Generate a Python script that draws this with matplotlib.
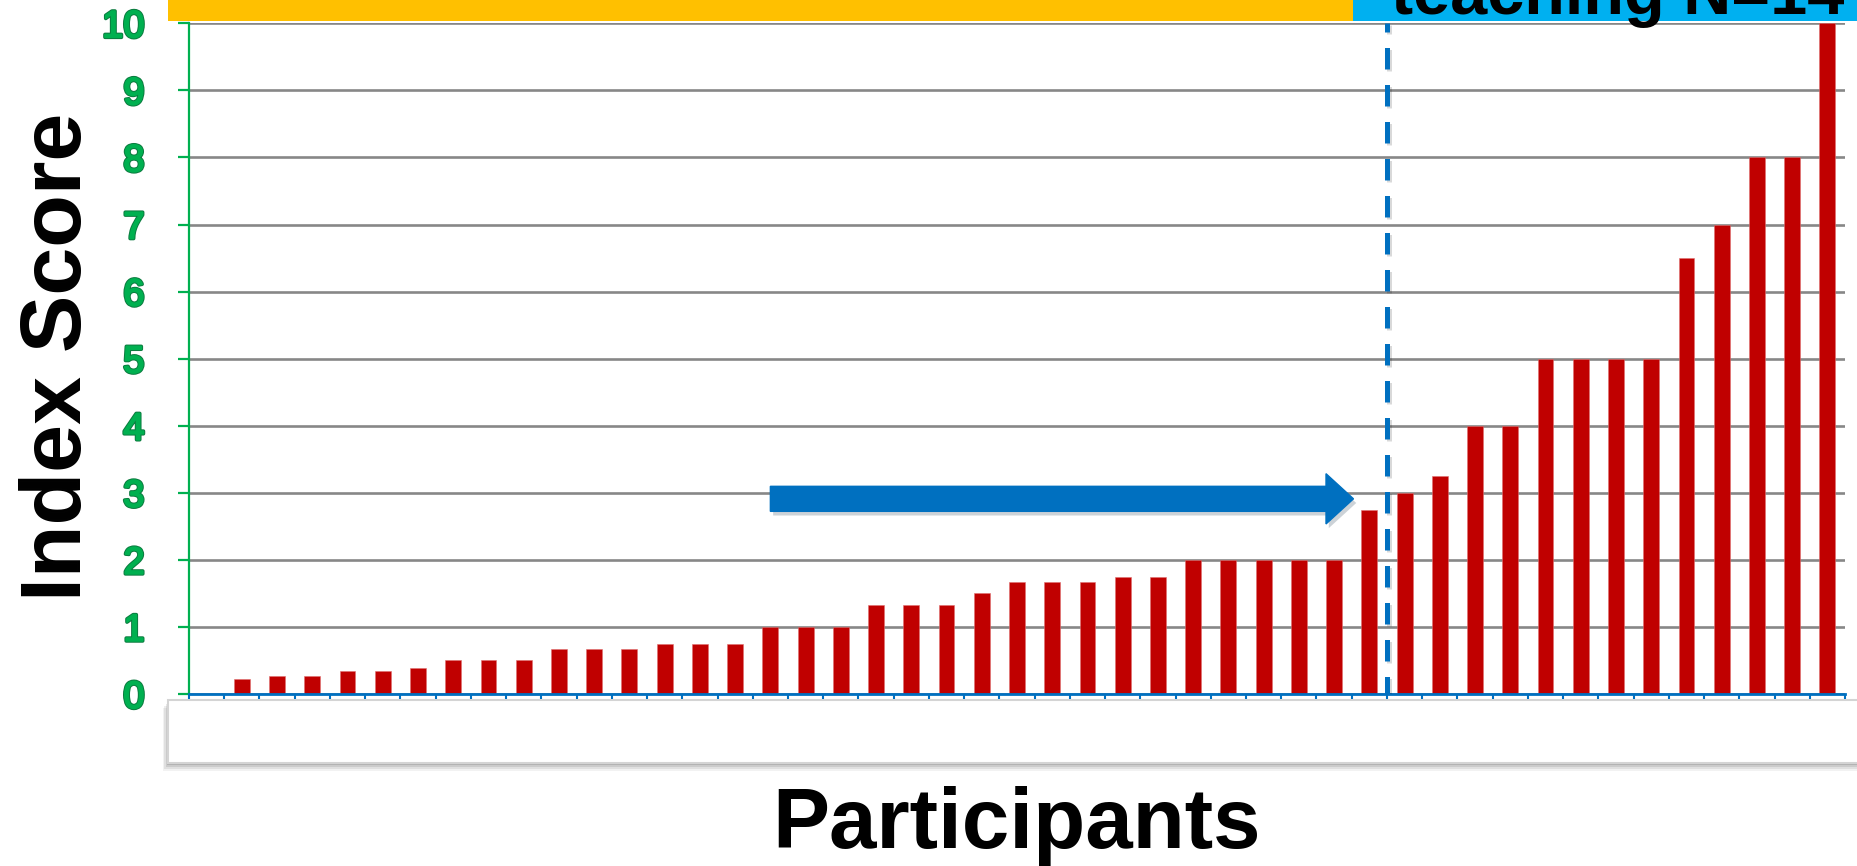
import matplotlib
matplotlib.use("Agg")
import matplotlib.pyplot as plt
import matplotlib.patheffects as pe
from matplotlib.patches import Rectangle, FancyArrow
import numpy as np

# Index score per participant, sorted ascending
scores = [0, 0.22, 0.27, 0.27, 0.35, 0.35, 0.39, 0.5, 0.5, 0.5,
          0.67, 0.67, 0.67, 0.75, 0.75, 0.75, 1.0, 1.0, 1.0,
          1.33, 1.33, 1.33, 1.5, 1.67, 1.67, 1.67, 1.75, 1.75,
          2, 2, 2, 2, 2, 2.75, 3, 3.25, 4, 4, 5, 5, 5, 5,
          6.5, 7, 8, 8, 10]
y_ticks = list(range(0, 11))
x_label = "Participants"
y_label = "Index Score"
group_label = "teaching N=14"
split_after = 33          # last participant before the cut-off line
arrow_start, arrow_end, arrow_level = 16.0, 32.55, 2.91

FONT = "Liberation Sans"
W, H = 1858, 866
fig = plt.figure(figsize=(W / 100, H / 100), dpi=100)
fig.patch.set_facecolor("white")

def px(x0, y0, w, h):
    """Rectangle in figure fraction from pixel box (top-left origin)."""
    return (x0 / W, 1 - (y0 + h) / H, w / W, h / H)

# header bands
for (x0, w, c) in [(168, 1353 - 168, "#FFC000"), (1353, W - 1353, "#00B0F0")]:
    l, b, ww, hh = px(x0, 0, w, 21)
    fig.add_artist(Rectangle((l, b), ww, hh, transform=fig.transFigure,
                             facecolor=c, edgecolor="none", zorder=1))
fig.text(1391 / W, 1 - 14.5 / H, group_label, fontsize=48, fontweight="bold",
         family=FONT, color="black", ha="left", va="baseline", zorder=3)

# empty category box beneath the axis, with a soft shadow
for k, a in enumerate([0.05, 0.07, 0.09, 0.12]):
    d = 8 - 2 * k
    l, b, ww, hh = px(168 - d * 0.6, 700 + d, W, 63)
    fig.add_artist(Rectangle((l, b), ww, hh, transform=fig.transFigure,
                             facecolor="black", alpha=a, edgecolor="none", zorder=1))
l, b, ww, hh = px(168, 700, W, 63)
fig.add_artist(Rectangle((l, b), ww, hh, transform=fig.transFigure,
                         facecolor="white", edgecolor="#D4D4D4", linewidth=1.5, zorder=1.5))

ax = fig.add_axes([189 / W, 1 - 694 / H, (1845 - 189) / W, (694 - 23.3) / H])
ax.set_facecolor("none")
ax.set_zorder(2)

x = np.arange(len(scores))
ax.bar(x, scores, width=0.45, color="#C00000", edgecolor="#E07070",
       linewidth=0.4, zorder=3)

ax.set_xlim(-0.5, len(scores) - 0.5)
ax.set_ylim(0, 10)
ax.set_yticks(y_ticks)
ax.set_yticklabels([str(t) for t in y_ticks])
ax.set_xticks(np.arange(-0.5, len(scores) + 0.5, 1.0))
ax.set_xticklabels([])

ax.yaxis.grid(True, color="#878787", linewidth=1.9, zorder=0)
ax.set_axisbelow(True)

for s in ("top", "right"):
    ax.spines[s].set_visible(False)
ax.spines["left"].set_color("#00B050")
ax.spines["left"].set_linewidth(1.6)
ax.spines["bottom"].set_color("#0070C0")
ax.spines["bottom"].set_linewidth(2.0)
ax.spines["bottom"].set_zorder(4)

ax.tick_params(axis="y", direction="out", length=8, width=1.6, color="#00B050",
               pad=24, labelsize=27.5, labelcolor="#00B050")
ax.tick_params(axis="x", direction="out", length=3.8, width=1.5, color="#0070C0")
for lab in ax.get_yticklabels():
    lab.set_fontfamily(FONT)
    lab.set_fontweight("normal")
    lab.set_path_effects([pe.Stroke(linewidth=2.6, foreground="#0C7A3F"),
                          pe.Stroke(linewidth=1.2, foreground="#00B050"),
                          pe.Normal()])

# cut-off line between the groups
ln, = ax.plot([split_after + 0.5, split_after + 0.5], [-0.06, 10], color="#0070C0",
              linewidth=3.6, zorder=5, solid_capstyle="butt",
              path_effects=[pe.SimpleLineShadow(offset=(1.5, -1.5), alpha=0.15), pe.Normal()])
ln.set_dashes([4.3, 3.1])
ln.set_dash_capstyle("butt")

# arrow pointing toward the cut-off
arr = FancyArrow(arrow_start, arrow_level, arrow_end - arrow_start, 0,
                 width=0.373, head_width=0.75, head_length=0.78,
                 length_includes_head=True, color="#0070C0", zorder=6,
                 path_effects=[pe.SimplePatchShadow(offset=(2, -3), alpha=0.2), pe.Normal()])
ax.add_patch(arr)

fig.text(1017 / W, 1 - 848 / H, x_label, fontsize=61.5, fontweight="bold",
         family=FONT, ha="center", va="baseline", zorder=3)
fig.text(81 / W, 1 - 357 / H, y_label, fontsize=62, fontweight="bold",
         family=FONT, rotation=90, rotation_mode="anchor",
         ha="center", va="baseline", zorder=3)

fig.savefig("out.png", dpi=100, facecolor="white")
